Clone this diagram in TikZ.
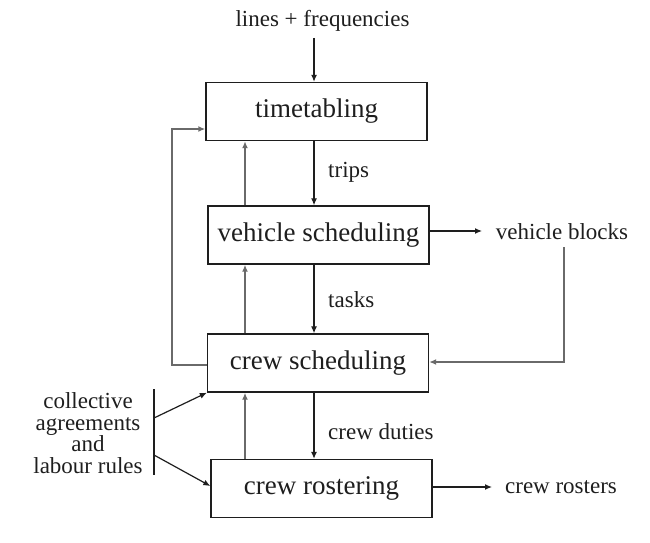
\documentclass[tikz,border=0pt]{standalone}
\usepackage{fontspec}
\setmainfont{Liberation Serif}
\usetikzlibrary{arrows.meta}
\definecolor{ink}{HTML}{1E1E1E}
\definecolor{gline}{HTML}{6A6A6A}
\tikzset{
  procbox/.style={draw=ink, line width=1.4pt, minimum width=221pt, minimum height=58pt, inner sep=0pt, text=ink, font=\fontsize{27pt}{30pt}\selectfont},
  lbl/.style={text=ink, inner sep=2pt, font=\fontsize{23pt}{21.5pt}\selectfont},
  arr/.style={draw=ink, line width=1.2pt, -{Latex[length=7pt,width=6pt]}},
  uarr/.style={draw=gline, line width=1.6pt, -{Latex[length=7pt,width=6pt]}},
  plain/.style={draw=ink, line width=1.2pt},
}
\begin{document}
\begin{tikzpicture}[x=1pt,y=-1pt]
\useasboundingbox (0,0) rectangle (650,542);
% boxes
\node[procbox] (T) at (316.5,111.5) {timetabling};
\node[procbox] (V) at (318.5,235) {vehicle scheduling};
\node[procbox] (C) at (318,363) {crew scheduling};
\node[procbox] (R) at (321.5,488.5) {crew rostering};
% labels
\node[lbl] (lf) at (322.5,21) {lines + frequencies};
\node[lbl, anchor=west] (trips) at (326,172) {trips};
\node[lbl, anchor=west] (tasks) at (326,300) {tasks};
\node[lbl, anchor=west] (duties) at (326,432) {crew duties};
\node[lbl] (vb) at (562,232) {vehicle blocks};
\node[lbl] (cr) at (561,487) {crew rosters};
\node[lbl, align=center] (coll) at (88,433) {collective\\agreements\\and\\labour rules};
% helper coordinates
\coordinate (xd) at (314,0);
\coordinate (xu) at (245,0);
\coordinate (lp) at (172,129);
\coordinate (bt) at (154,389);
\coordinate (bb) at (154,475);
\coordinate (b1) at (154,418);
\coordinate (b2) at (154,455);
\coordinate (vbarrow) at (482,231);
\coordinate (vbdrop) at (564,247);
\coordinate (crarrow) at (492,487);
% down arrows
\draw[arr] (lf.south -| xd) ++(0,4) -- (T.north -| xd);
\draw[arr] (T.south -| xd) -- (V.north -| xd);
\draw[arr] (V.south -| xd) -- (C.north -| xd);
\draw[arr] (C.south -| xd) -- (R.north -| xd);
% up arrows
\draw[uarr] (V.north -| xu) -- (T.south -| xu);
\draw[uarr] (C.north -| xu) -- (V.south -| xu);
\draw[uarr] (R.north -| xu) -- (C.south -| xu);
% feedback loop
\draw[uarr, line width=1.4pt] (C.west |- 0,365) -| (lp) -- (lp -| T.west);
% outputs
\draw[arr] (V.east |- vbarrow) -- (vbarrow);
\draw[uarr, line width=1.4pt] (vbdrop) |- (C.east |- 0,362);
\draw[arr] (R.east |- crarrow) -- (crarrow);
% rules
\draw[plain] (bt) -- (bb);
\draw[arr] (b1) -- (C.south west);
\draw[arr] (b2) -- (R.west |- 0,486);
\end{tikzpicture}
\end{document}
